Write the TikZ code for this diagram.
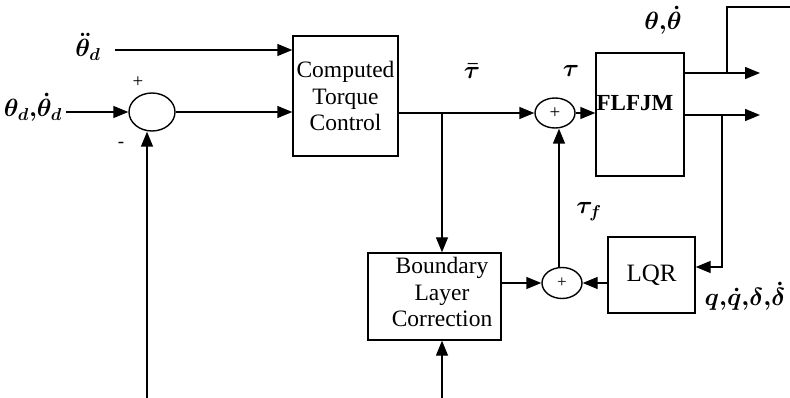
\documentclass[tikz,border=0pt]{standalone}
\usepackage{fontspec}
\setmainfont{Liberation Serif}
\usetikzlibrary{arrows.meta,shapes.geometric}
\begin{document}
\begin{tikzpicture}[x=1pt,y=-1pt,
  line width=1.4pt,
  arr/.style={-{Triangle[length=15pt,width=12pt]}},
  blk/.style={draw,rectangle,inner sep=0pt},
  sumc/.style={draw,ellipse,inner sep=0pt},
  btxt/.style={align=center,font=\fontsize{23.5}{26.5}\selectfont},
  lbl/.style={font=\fontsize{23}{24}\selectfont\boldmath},
  sgn/.style={font=\fontsize{19}{20}\selectfont}]
\useasboundingbox (0,0) rectangle (790,398);
% blocks
\node[blk,minimum width=105pt,minimum height=120pt,btxt] (ctc) at (345.5,96) {Computed\\Torque\\Control};
\node[blk,minimum width=88pt,minimum height=123pt] (flfjm) at (640,114.5) {};
\node[font=\fontsize{23}{26}\selectfont\bfseries] (flfjmtxt) at (635,103) {FLFJM};
\node[blk,minimum width=87pt,minimum height=76pt,font=\fontsize{25}{28}\selectfont] (lqr) at (651.5,275) {LQR};
\node[blk,minimum width=133pt,minimum height=87pt] (blc) at (434.5,296.5) {};
\node[btxt] (blctxt) at (442,292) {Boundary\\Layer\\Correction};
% summing junctions
\node[sumc,minimum width=46pt,minimum height=38pt] (sum0) at (152,112) {};
\node[sumc,minimum width=40pt,minimum height=30pt,font=\fontsize{19}{20}\selectfont] (sum1) at (555,113) {+};
\node[sumc,minimum width=40pt,minimum height=31pt,font=\fontsize{17}{18}\selectfont] (sum2) at (562,283) {+};
% labels
\node[lbl] (ltdd) at (88,47) {$\ddot{\theta}_d$};
\node[lbl,anchor=east] (ltd) at (66,107) {$\theta_d{,}\dot{\theta}_d$};
\node[sgn] (lplus) at (138,82) {+};
\node[sgn] (lminus) at (121,145) {-};
\node[lbl] (ltaubar) at (472,71) {$\bar{\tau}$};
\node[lbl] (ltau) at (571,71) {$\tau$};
\node[lbl] (ltauf) at (589,212) {$\tau_f$};
\node[lbl] (ltheta) at (663,20) {$\theta{,}\dot{\theta}$};
\node[lbl] (lq) at (745,296) {$q{,}\dot{q}{,}\delta{,}\dot{\delta}$};
% coordinates
\coordinate (a0) at (115,50);
\coordinate (j) at (442,113);
\coordinate (o1) at (760,73);
\coordinate (o2) at (760,115);
\coordinate (t1) at (727,73);
\coordinate (t2) at (790,7);
\coordinate (b1) at (722,115);
\coordinate (f0) at (147,398);
\coordinate (f1) at (442,398);
% connectors
\draw[arr] (a0) -- (a0 -| ctc.west);
\draw[arr] (ltd.east |- sum0) -- (sum0.west);
\draw[arr] (sum0.east) -- (sum0.east -| ctc.west);
\draw (ctc.east |- j) -- (j);
\draw[arr] (j) -- (sum1.west);
\draw[arr] (j) -- (j |- blc.north);
\draw[arr] (sum1.east) -- (sum1.east -| flfjm.west);
\draw[arr] (o1 -| flfjm.east) -- (o1);
\draw (t1) |- (t2);
\draw[arr] (o2 -| flfjm.east) -- (o2);
\draw[arr] (b1) |- (lqr.east |- 0,267);
\draw[arr] (lqr.west |- sum2) -- (sum2.east);
\draw[arr] (blc.east |- sum2) -- (sum2.west);
\draw[arr] (sum2.north -| 559,0) -- (sum1.south -| 559,0);
\draw[arr] (f0) -- (f0 |- sum0.south);
\draw[arr] (f1) -- (f1 |- blc.south);
\end{tikzpicture}
\end{document}
